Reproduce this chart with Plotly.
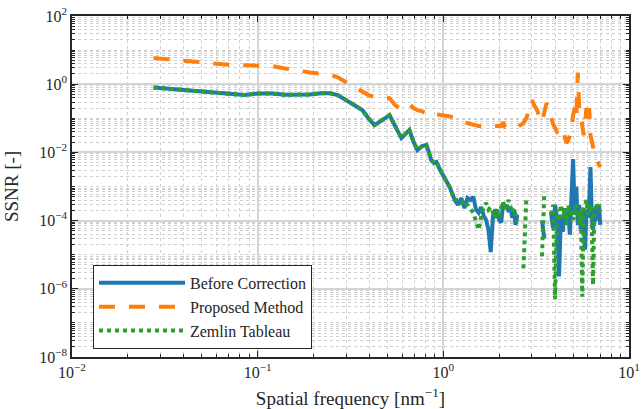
import plotly.graph_objects as go

# Spatial frequency [nm^-1]
freq = [0.0275, 0.04, 0.055, 0.07, 0.085, 0.1, 0.12, 0.14, 0.165, 0.19, 0.22, 0.245, 0.27, 0.3, 0.33,
        0.366, 0.395, 0.425, 0.46, 0.513, 0.55, 0.595, 0.625, 0.656, 0.69, 0.725, 0.77, 0.81, 0.835, 0.86,
        0.89, 0.918, 0.96, 1.01, 1.08, 1.15,
        1.20, 1.25, 1.30, 1.35, 1.40, 1.45, 1.50, 1.55, 1.60, 1.65, 1.70, 1.75, 1.80, 1.85, 1.90, 1.95,
        2.00, 2.05, 2.10, 2.15, 2.20, 2.25, 2.30, 2.35, 2.40, 2.45, 2.50,
        2.6, 2.7, 2.8, 2.9, 3.0, 3.1, 3.2, 3.3, 3.4, 3.5, 3.6, 3.7, 3.8, 3.9, 4.0, 4.1, 4.2, 4.3, 4.4,
        4.5, 4.6, 4.7, 4.8, 4.9, 5.0, 5.1, 5.2, 5.3, 5.4, 5.5, 5.6, 5.7, 5.8, 5.9, 6.0, 6.1, 6.2, 6.3,
        6.4, 6.5, 6.6, 6.7, 6.8, 6.9, 7.0]

before_correction = [0.8, 0.67, 0.58, 0.51, 0.48, 0.53, 0.53, 0.49, 0.48, 0.5, 0.54, 0.54, 0.48, 0.34, 0.23,
                     0.174, 0.10, 0.063, 0.083, 0.124, 0.059, 0.0263, 0.035, 0.045, 0.021, 0.0117, 0.0154, 0.0165, 0.0103, 0.006,
                     0.0049, 0.0052, 0.0031, 0.0019, 0.00098, 0.00041,
                     2.9e-4, 4.6e-4, 2.3e-4, 4.6e-4, 4.0e-4, 5.0e-4, 2.1e-4, 1.7e-4, 2.5e-4, 1.4e-4, 1.05e-4, 5.4e-5, 1.2e-5, 1.3e-4, 2.1e-4, 1.7e-4,
                     1.05e-4, 8.7e-5, 3.3e-4, 2.3e-4, 2.9e-4, 1.8e-4, 2.5e-4, 1.2e-4, 2.1e-4, 7.5e-5, 1.5e-4,
                     None, None, None, None, None, None, None, None, 1.0e-4, 3.0e-5, None, None, 1.8e-4, 6.0e-5, 2.9e-4, 1.05e-4, 2.3e-6, 1.5e-4, 4.7e-5,
                     2.3e-4, 7.5e-5, 2.1e-4, 3.9e-5, 4.0e-4, 6.4e-3, 1.5e-4, 9.8e-4, 7.5e-5, 2.9e-4, 5.4e-5, 2.1e-4, 9.5e-5, 1.4e-5, 2.1e-4, 1.2e-4, 2.9e-4, 3.7e-3, 1.5e-4,
                     5.4e-5, 2.3e-4, 9.5e-5, 2.1e-4, 1.2e-4, 2.9e-4, 7.5e-5]

proposed_method = [5.9, 4.8, 4.1, 3.7, 3.6, 3.6, 3.4, 2.9, 2.6, 2.2, 2.1, 1.9, 1.6, 1.14, 0.85,
                   0.58, 0.48, 0.42, 0.40, 0.39, 0.24, 0.186, 0.227, 0.26, 0.20, 0.174, 0.16, 0.142, 0.152, 0.133,
                   0.142, 0.133, 0.124, 0.12, 0.116, 0.108,
                   0.095, 0.083, 0.077, 0.072, 0.068, 0.063, 0.059, 0.059, 0.059, 0.059, 0.059, 0.059, 0.059, 0.059, 0.059, 0.059,
                   0.059, 0.059, 0.077, 0.055, 0.055, 0.052, 0.052, 0.052, 0.055, 0.055, 0.055,
                   0.063, 0.072, 0.10, 0.20, 0.34, 0.23, 0.174, 0.10, 0.077, 0.152, 0.28, 0.174, 0.10, 0.068, 0.052, 0.04, 0.045, 0.055, 0.045,
                   0.03, 0.019, 0.022, 0.03, 0.045, 0.124, 0.20, 0.10, 2.2, 0.174, 0.124, 0.063, 0.032, 0.077, 0.20, 0.088, 0.20, 0.032, 0.022,
                   0.0117, 0.0084, 0.0069, 0.006, 0.0049, 0.0043, 0.0037]

zemlin_tableau = [0.8, 0.67, 0.58, 0.51, 0.48, 0.53, 0.53, 0.49, 0.48, 0.5, 0.54, 0.54, 0.48, 0.34, 0.23,
                  0.174, 0.10, 0.063, 0.083, 0.124, 0.059, 0.0263, 0.035, 0.045, 0.021, 0.0117, 0.0154, 0.0165, 0.0103, 0.006,
                  0.0049, 0.0052, 0.0031, 0.0019, 0.00098, 0.00041,
                  4.0e-4, 3.3e-4, 4.0e-4, 2.9e-4, 2.1e-4, 1.7e-4, 9.5e-5, 5.4e-5, 1.3e-4, 2.5e-4, 3.3e-4, 2.1e-4, 2.5e-4, 1.7e-4, 1.2e-4, 2.1e-4,
                  1.3e-4, 2.5e-4, 3.6e-4, 2.1e-4, 2.9e-4, 4.0e-4, 2.5e-4, 1.7e-4, 2.3e-4, 1.5e-4, 9.5e-5,
                  None, 4.0e-6, 4.6e-4, None, None, None, None, None, 9.0e-6, 7.0e-4, None, None, 1.5e-4, 2.9e-4, 5.0e-7, 2.1e-4, 9.5e-5, 2.9e-4, 1.2e-4,
                  2.1e-4, 7.5e-5, 2.9e-4, 1.5e-4, 2.1e-4, 1.05e-4, 1.8e-4, 2.9e-4, 1.5e-4, 7.5e-5, 2.1e-4, 5.9e-7, 2.1e-4, 2.9e-4, 4.0e-4, 1.5e-4, 2.1e-4, 2.9e-4, 1.05e-4,
                  1.3e-6, 1.5e-4, 2.3e-4, 3.3e-4, 2.1e-4, 2.9e-4, 1.8e-4]

x_tickvals = [0.01, 0.1, 1, 10]
x_ticktext = ["10<sup>−2</sup>", "10<sup>−1</sup>", "10<sup>0</sup>", "10<sup>1</sup>"]
y_tickvals = [1e-8, 1e-6, 1e-4, 1e-2, 1, 100]
y_ticktext = ["10<sup>−8</sup>", "10<sup>−6</sup>", "10<sup>−4</sup>", "10<sup>−2</sup>", "10<sup>0</sup>", "10<sup>2</sup>"]

FONT = "Liberation Serif"

fig = go.Figure()
fig.add_trace(go.Scatter(x=freq, y=before_correction, mode="lines", name="Before Correction",
                         line=dict(color="#1f77b4", width=4), connectgaps=False))
fig.add_trace(go.Scatter(x=freq, y=proposed_method, mode="lines", name="Proposed Method",
                         line=dict(color="#ff7f0e", width=4, dash="16px,14px"), connectgaps=False))
fig.add_trace(go.Scatter(x=freq, y=zemlin_tableau, mode="lines", name="Zemlin Tableau",
                         line=dict(color="#2ca02c", width=4, dash="4px,4px"), connectgaps=False))

axis_common = dict(
    automargin=False,
    showline=True, linecolor="#262626", linewidth=1.5, mirror="ticks",
    ticks="inside", ticklen=6, tickwidth=1, tickcolor="#262626",
    showgrid=True, gridcolor="#d4d4d4", gridwidth=1.5,
    zeroline=False,
    tickfont=dict(family=FONT, size=16, color="#262626"),
)

fig.update_xaxes(type="log", range=[-2, 1], tickvals=x_tickvals, ticktext=x_ticktext,
                 title=dict(text="Spatial frequency [nm<sup>−1</sup>]", font=dict(family=FONT, size=19, color="#262626")),
                 minor=dict(dtick="D1", ticks="inside", ticklen=3, tickcolor="#262626", showgrid=True,
                            gridcolor="#cfcfcf", griddash="dot", gridwidth=1),
                 **axis_common)
fig.update_yaxes(type="log", range=[-8, 2], tickvals=y_tickvals, ticktext=y_ticktext,
                 title=dict(text="SSNR [-]", font=dict(family=FONT, size=19, color="#262626")),
                 minor=dict(dtick="D1", ticks="inside", ticklen=3, tickcolor="#262626", showgrid=True,
                            gridcolor="#cfcfcf", griddash="dot", gridwidth=1),
                 **axis_common)

fig.update_layout(
    width=641, height=409,
    margin=dict(l=72, r=12, t=16, b=52),
    paper_bgcolor="white", plot_bgcolor="white",
    font=dict(family=FONT, size=16, color="#262626"),
    showlegend=True,
    legend=dict(x=0.0377, y=0.27, xanchor="left", yanchor="top",
                bgcolor="white", bordercolor="#262626", borderwidth=1,
                font=dict(family=FONT, size=16, color="#262626"), itemwidth=86),
)

fig.write_html("out.html")
